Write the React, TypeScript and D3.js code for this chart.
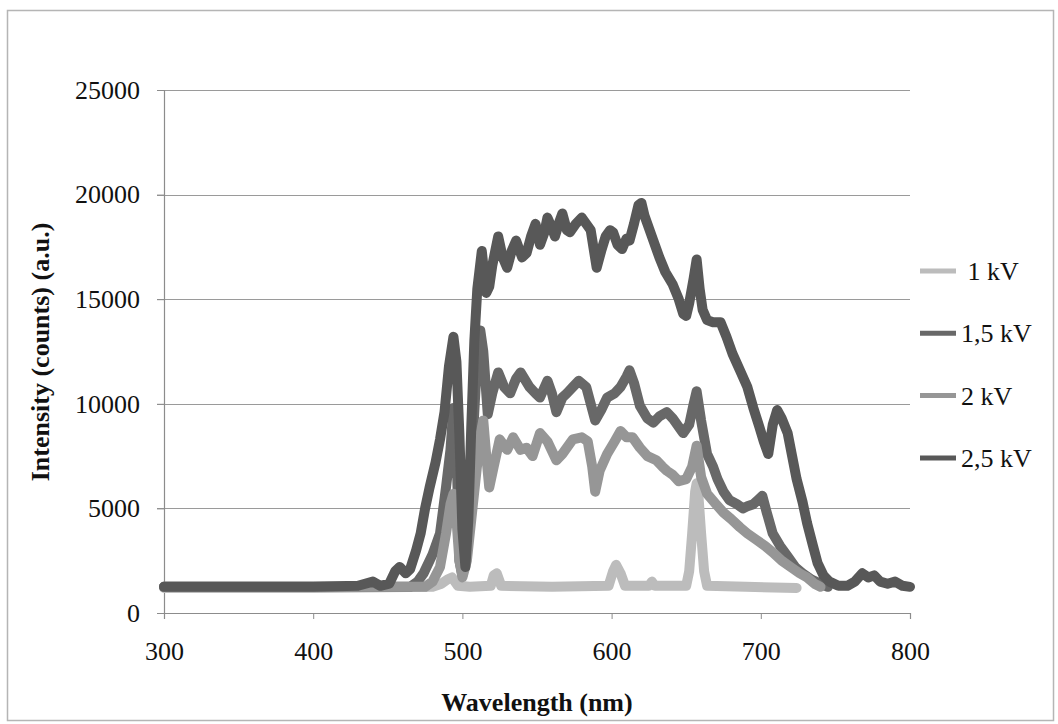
import React, { useEffect, useRef } from "react";
import * as d3 from "d3";

// axis ticks
const xTicks = [300, 400, 500, 600, 700, 800];
const yTicks = [0, 5000, 10000, 15000, 20000, 25000];

// series names (legend order)
const seriesNames = [" 1 kV", "1,5 kV", "2 kV", "2,5 kV"];

// [wavelength nm, intensity counts]
const kv1: [number, number][] = [
  [300, 1200], [400, 1200], [480, 1250], [486, 1400], [490, 1600], [493, 1700], [497, 1300],
  [505, 1250], [519, 1300], [521, 1800], [523, 1900], [526, 1300], [560, 1250], [598, 1300],
  [601, 2000], [603, 2300], [606, 1900], [609, 1300], [625, 1300], [627, 1500], [629, 1300],
  [650, 1300], [652, 2000], [654, 3800], [656, 5800], [657, 6200], [658, 5800], [660, 3800],
  [662, 2000], [664, 1300], [690, 1250], [724, 1200],
];

const kv15: [number, number][] = [
  [300, 1250], [400, 1250], [465, 1250], [470, 1500], [474, 1900], [480, 2800], [485, 3800],
  [489, 6000], [492, 7800], [494, 9800], [496, 8000], [498, 2500], [500, 1800], [503, 3000],
  [506, 7000], [509, 11000], [512, 13500], [514, 12500], [517, 9500], [520, 10500], [524, 11500],
  [528, 10800], [532, 10500], [536, 11200], [539, 11500], [545, 10800], [549, 10500], [552, 10300],
  [557, 11100], [560, 10500], [563, 9600], [567, 10300], [570, 10500], [574, 10800], [578, 11100],
  [583, 10800], [586, 10000], [589, 9200], [593, 9700], [597, 10300], [602, 10500], [606, 10800],
  [610, 11300], [612, 11600], [615, 11000], [619, 9900], [624, 9300], [628, 9100], [632, 9400],
  [637, 9600], [641, 9300], [645, 8900], [648, 8600], [652, 9000], [655, 10000], [657, 10600],
  [660, 9200], [664, 7600], [668, 7000], [671, 6400], [675, 5800], [679, 5400], [684, 5200],
  [688, 5000], [691, 5100], [695, 5200], [698, 5400], [701, 5600], [704, 4800], [708, 3800],
  [713, 3200], [718, 2700], [723, 2200], [728, 1900], [734, 1600], [740, 1400], [745, 1250],
];

const kv2: [number, number][] = [
  [300, 1250], [400, 1250], [475, 1250], [480, 1500], [485, 2200], [489, 3800], [492, 5200],
  [494, 5700], [496, 4500], [498, 2500], [500, 1700], [503, 2500], [506, 4500], [509, 6500],
  [512, 8500], [514, 9200], [516, 7500], [518, 6000], [521, 7000], [525, 8300], [530, 7800],
  [534, 8400], [539, 7800], [543, 7900], [547, 7500], [552, 8600], [557, 8200], [563, 7300],
  [567, 7600], [574, 8300], [580, 8400], [584, 8200], [587, 7000], [589, 5800], [592, 6800],
  [597, 7600], [602, 8200], [606, 8700], [610, 8400], [614, 8400], [619, 7900], [624, 7500],
  [630, 7300], [634, 7000], [637, 6800], [641, 6600], [645, 6300], [650, 6400], [654, 7000],
  [657, 8000], [660, 6500], [664, 5700], [670, 5200], [675, 4800], [680, 4500], [686, 4100],
  [691, 3800], [697, 3500], [703, 3200], [708, 2900], [714, 2500], [720, 2200], [726, 1900],
  [731, 1700], [736, 1400], [740, 1250],
];

const kv25: [number, number][] = [
  [300, 1250], [350, 1250], [400, 1250], [430, 1300], [440, 1500], [445, 1300], [451, 1400],
  [455, 2000], [458, 2200], [462, 1900], [465, 2100], [469, 3000], [472, 3800], [475, 5000],
  [478, 6000], [482, 7200], [485, 8300], [488, 9600], [491, 11800], [494, 13200], [496, 12000],
  [498, 8500], [500, 4000], [502, 2200], [504, 4500], [506, 9000], [508, 13000], [510, 15500],
  [513, 17300], [516, 15300], [518, 15600], [520, 16600], [524, 18000], [527, 17000], [530, 16500],
  [533, 17300], [536, 17800], [540, 17000], [543, 17200], [546, 18000], [549, 18600], [552, 17600],
  [555, 18200], [557, 18900], [560, 18400], [562, 18000], [565, 18700], [567, 19100], [570, 18300],
  [572, 18200], [576, 18600], [580, 18900], [583, 18600], [586, 18300], [588, 17400], [590, 16500],
  [593, 17300], [596, 18000], [599, 18300], [601, 18200], [604, 17600], [607, 17400], [610, 17900],
  [612, 17800], [615, 18600], [618, 19500], [620, 19600], [622, 19000], [624, 18600], [628, 17800],
  [632, 17000], [636, 16300], [641, 15700], [645, 15000], [648, 14300], [650, 14200], [652, 14800],
  [655, 16000], [657, 16900], [659, 15500], [661, 14500], [664, 14000], [668, 13900], [673, 13900],
  [677, 13200], [681, 12400], [686, 11600], [691, 10800], [695, 9800], [699, 8900], [702, 8200],
  [705, 7600], [708, 9000], [711, 9700], [714, 9300], [718, 8600], [721, 7500], [724, 6400],
  [728, 5300], [731, 4300], [735, 3200], [738, 2400], [742, 1800], [746, 1500], [752, 1300],
  [758, 1300], [763, 1500], [768, 1900], [772, 1700], [776, 1800], [780, 1500], [785, 1400],
  [790, 1500], [795, 1300], [800, 1250],
];

const App = () => {
  const svgRef = useRef<SVGSVGElement | null>(null);

  useEffect(() => {
    const svg = d3.select(svgRef.current);
    svg.selectAll("*").remove();

    const font = "'Liberation Serif', 'Times New Roman', serif";
    const colors = ["#bcbcbc", "#686868", "#969696", "#585858"];
    const allSeries = [kv1, kv15, kv2, kv25];

    const x = d3.scaleLinear().domain([300, 800]).range([164, 910]);
    const y = d3.scaleLinear().domain([0, 25000]).range([613, 90]);

    // outer frame
    svg
      .append("rect")
      .attr("x", 7.5)
      .attr("y", 10.5)
      .attr("width", 1046)
      .attr("height", 710)
      .attr("fill", "#fff")
      .attr("stroke", "#b5b5b5")
      .attr("stroke-width", 1.5);

    // gridlines
    svg
      .append("g")
      .selectAll("line")
      .data(yTicks.filter((t) => t > 0))
      .enter()
      .append("line")
      .attr("x1", 157)
      .attr("x2", x(800))
      .attr("y1", (d) => Math.round(y(d)) + 0.5)
      .attr("y2", (d) => Math.round(y(d)) + 0.5)
      .attr("stroke", "#9a9a9a")
      .attr("stroke-width", 1.2);

    // y axis
    const yAxis = svg
      .append("g")
      .attr("transform", `translate(${x(300)},0)`)
      .call(
        d3
          .axisLeft(y)
          .tickValues(yTicks)
          .tickFormat(d3.format("d"))
          .tickSize(7)
          .tickPadding(17)
      );
    yAxis.select(".domain").attr("stroke", "#8c8c8c").attr("stroke-width", 1.2);
    yAxis.selectAll(".tick line").attr("stroke", "#8c8c8c");
    yAxis
      .selectAll("text")
      .attr("font-family", font)
      .attr("font-size", 26)
      .attr("fill", "#111");

    // x axis
    const xAxis = svg
      .append("g")
      .attr("transform", `translate(0,${y(0)})`)
      .call(d3.axisBottom(x).tickValues(xTicks).tickSize(6).tickSizeOuter(6).tickPadding(23));
    xAxis.select(".domain").attr("stroke", "#8c8c8c").attr("stroke-width", 1.2);
    xAxis.selectAll(".tick line").attr("stroke", "#8c8c8c");
    xAxis
      .selectAll("text")
      .attr("font-family", font)
      .attr("font-size", 26)
      .attr("fill", "#111");

    // series lines
    const line = d3
      .line<[number, number]>()
      .x((d) => x(d[0]))
      .y((d) => y(d[1]));

    allSeries.forEach((s, i) => {
      svg
        .append("path")
        .datum(s)
        .attr("d", line)
        .attr("fill", "none")
        .attr("stroke", colors[i])
        .attr("stroke-width", 10)
        .attr("stroke-linejoin", "round")
        .attr("stroke-linecap", "round");
    });

    // legend
    const legend = svg.append("g");
    seriesNames.forEach((name, i) => {
      const ly = 271 + i * 62.3;
      legend
        .append("line")
        .attr("x1", 920)
        .attr("x2", 956)
        .attr("y1", ly)
        .attr("y2", ly)
        .attr("stroke", colors[i])
        .attr("stroke-width", 5);
      legend
        .append("text")
        .attr("x", 961)
        .attr("y", ly)
        .attr("dy", "0.35em")
        .attr("font-family", font)
        .attr("font-size", 26)
        .attr("fill", "#111")
        .style("white-space", "pre")
        .text(name);
    });

    // axis titles
    svg
      .append("text")
      .attr("x", 537)
      .attr("y", 711)
      .attr("text-anchor", "middle")
      .attr("font-family", font)
      .attr("font-size", 26)
      .attr("font-weight", "bold")
      .attr("fill", "#111")
      .text("Wavelength (nm)");

    svg
      .append("text")
      .attr("transform", "translate(40,352) rotate(-90)")
      .attr("dy", "0.35em")
      .attr("text-anchor", "middle")
      .attr("font-family", font)
      .attr("font-size", 26)
      .attr("font-weight", "bold")
      .attr("fill", "#111")
      .text("Intensity (counts) (a.u.)");
  }, []);

  return (
    <svg
      ref={svgRef}
      width={1058}
      height={724}
      style={{ position: "absolute", left: 0, top: 0, background: "#fff" }}
    ></svg>
  );
};

export default App;
